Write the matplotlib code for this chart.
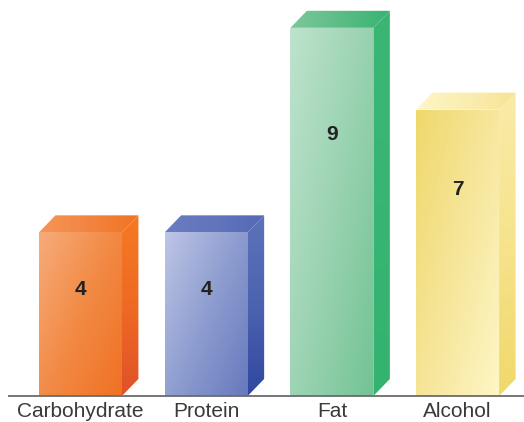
import numpy as np
import matplotlib
matplotlib.use("Agg")
import matplotlib.pyplot as plt
from matplotlib.colors import to_rgb
from matplotlib.patches import Polygon

# Energy content, kcal per gram
categories = ["Carbohydrate", "Protein", "Fat", "Alcohol"]
kcal_per_gram = [4, 4, 9, 7]

# Gradient stops (start -> end) for each face of each bar
front_colors = [
    ["#F7AC7A", "#F28A45", "#F07122"],
    ["#BEC6E6", "#8E9DD0", "#6679BD"],
    ["#BFE3CE", "#9BD3B2", "#73C394"],
    ["#F0D86C", "#F6E69A", "#FEF6C6"],
]
side_colors = [
    ["#F57A22", "#EE6A24", "#E0512A"],
    ["#5D72BA", "#4C63B0", "#3047A0"],
    ["#3BB675", "#38B574", "#33B270"],
    ["#F9ECA8", "#F6E38C", "#F0D86A"],
]
top_colors = [
    ["#F59558", "#F38440", "#F07424"],
    ["#6A7DC2", "#6174BC", "#5669B6"],
    ["#7CC79C", "#5CBD86", "#36B473"],
    ["#FEF6C8", "#FAEDB0", "#F6E497"],
]
label_frac = [0.65, 0.65, 0.71, 0.72]

W, H, DPI = 524, 422, 100
fig = plt.figure(figsize=(W / DPI, H / DPI), dpi=DPI)
ax = fig.add_axes([0, 0, 1, 1])
ax.set_xlim(-0.640, 3.528)
ax.set_ylim(-0.636, 9.68)
ax.axis("off")

bar_w = 0.66
dx, dy = 0.131, 0.416


def gradient_fill(ax, verts, stops, direction):
    xs = [v[0] for v in verts]
    ys = [v[1] for v in verts]
    x0, x1, y0, y1 = min(xs), max(xs), min(ys), max(ys)
    n = 200
    u = np.linspace(0, 1, n)[None, :].repeat(n, 0)
    v = np.linspace(0, 1, n)[:, None].repeat(n, 1)  # 0 at top
    if direction == "diag":
        t = (u * 0.55 + v * 0.45)
    elif direction == "vert":
        t = v
    else:
        t = u
    t = (t - t.min()) / (t.max() - t.min())
    cols = np.array([to_rgb(c) for c in stops])
    pos = np.linspace(0, 1, len(stops))
    img = np.zeros((n, n, 3))
    for k in range(3):
        img[..., k] = np.interp(t, pos, cols[:, k])
    poly = Polygon(verts, closed=True, facecolor="none", edgecolor="none")
    ax.add_patch(poly)
    im = ax.imshow(img, extent=(x0, x1, y0, y1), origin="upper",
                   aspect="auto", interpolation="bilinear", zorder=2)
    im.set_clip_path(poly)


for i, (cat, val) in enumerate(zip(categories, kcal_per_gram)):
    left, right = i - bar_w / 2, i + bar_w / 2
    front = [(left, 0), (right, 0), (right, val), (left, val)]
    side = [(right, 0), (right + dx, dy), (right + dx, val + dy), (right, val)]
    top = [(left, val), (right, val), (right + dx, val + dy), (left + dx, val + dy)]
    gradient_fill(ax, side, side_colors[i], "vert")
    gradient_fill(ax, top, top_colors[i], "horiz")
    gradient_fill(ax, front, front_colors[i], "diag")
    ax.text(i, val * label_frac[i], str(val), ha="center", va="center",
            fontsize=15, fontweight="bold", color="#222222",
            family="Liberation Sans", zorder=5)
    ax.text(i, -0.51, cat, ha="center", va="baseline", fontsize=15,
            color="#3a3a3a", family="Liberation Sans", zorder=5)

ax.plot([-0.578, 3.528], [0, 0], color="#6b6b6b", lw=1.3, zorder=4,
        solid_capstyle="butt")

fig.savefig("out.png", dpi=DPI)
